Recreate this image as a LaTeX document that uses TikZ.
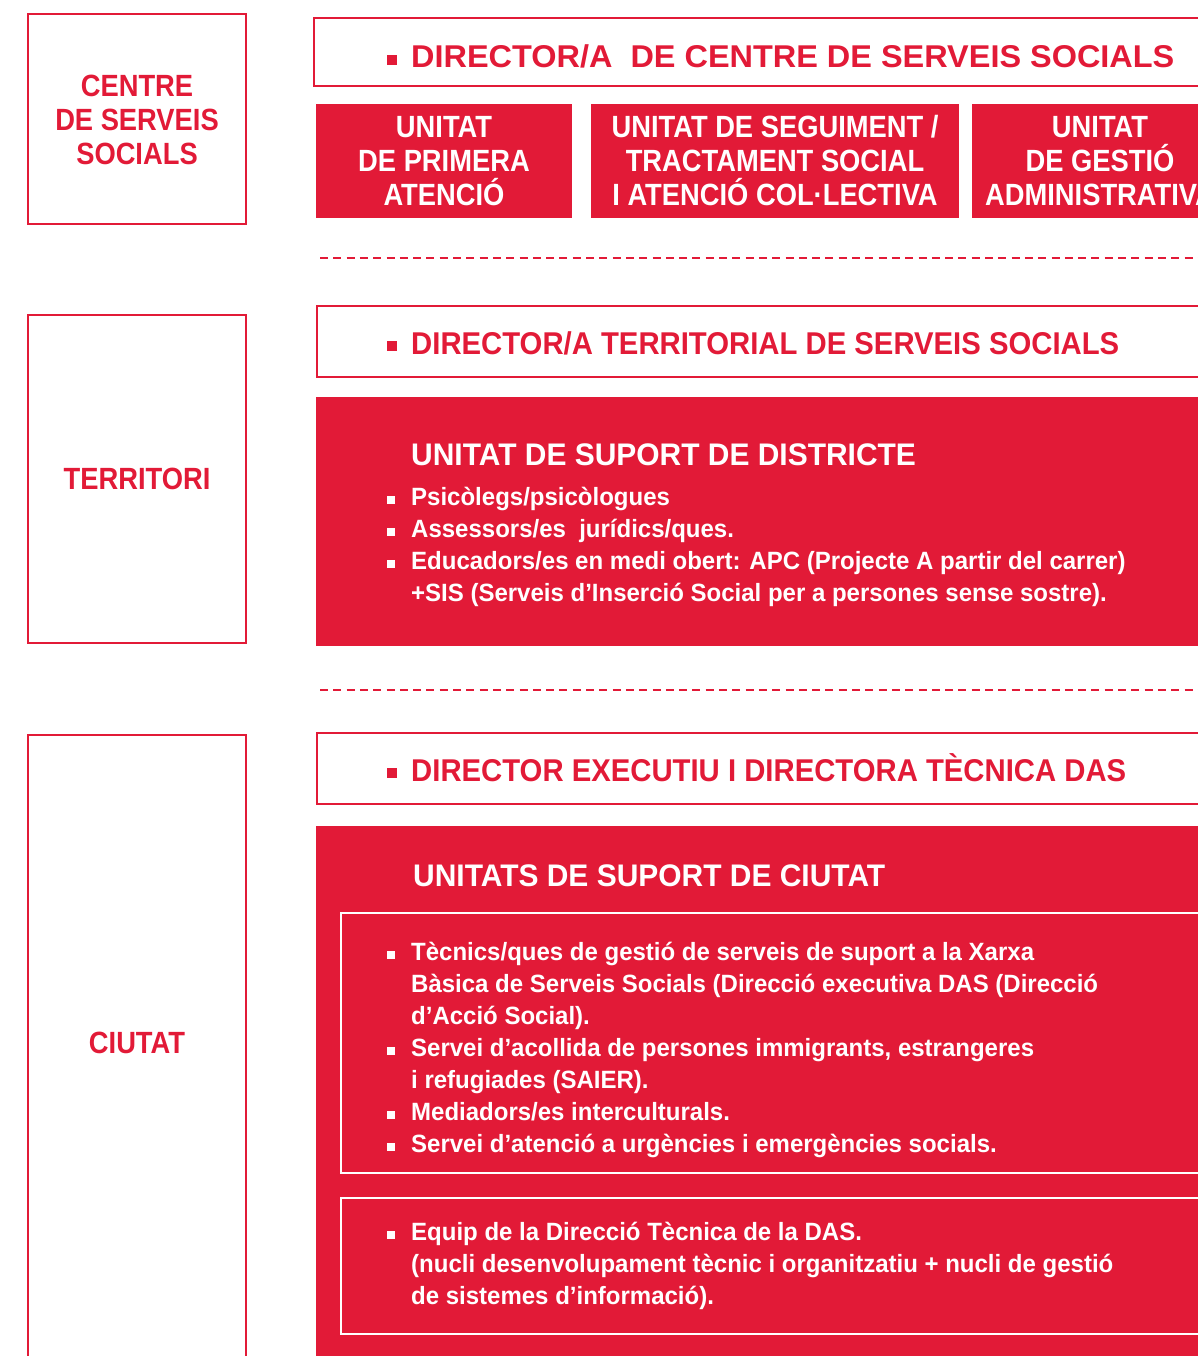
\documentclass[tikz,border=0pt]{standalone}
\usepackage{fontspec}
\setmainfont{Liberation Sans}
\newfontfamily\narrowfont{Liberation Sans}[FakeStretch=0.89]
\newfontfamily\headfont{Liberation Sans}[FakeStretch=0.93]
\newfontfamily\widefont{Liberation Sans}[FakeStretch=1.03]
\newfontfamily\bodyfont{Liberation Sans}[FakeStretch=0.96]
\definecolor{dasred}{HTML}{E21A37}

% square bullets
\newcommand\bigsq{\makebox[24pt][l]{\rule[3pt]{10pt}{10pt}}}
\newcommand\sq{\makebox[24pt][l]{\rule[1pt]{8pt}{8pt}}}
\newcommand\ind{\hspace*{24pt}}

\begin{document}
\begin{tikzpicture}[x=1pt,y=-1pt]

\tikzstyle{sidebox} = [draw=dasred, line width=2.5pt, minimum width=218pt, inner sep=0pt];
\tikzstyle{sidetxt} = [text=dasred, align=center, inner sep=0pt,
	font=\narrowfont\bfseries\fontsize{30.7}{34}\selectfont];
\tikzstyle{headbox} = [draw=dasred, line width=2.5pt, inner sep=0pt];
\tikzstyle{headtxt} = [text=dasred, anchor=base west, inner sep=0pt,
	font=\headfont\bfseries\fontsize{31.5}{34}\selectfont];
\tikzstyle{unit} = [fill=dasred, text=white, align=center, inner sep=0pt,
	minimum height=114pt, font=\narrowfont\bfseries\fontsize{30.7}{34}\selectfont];
\tikzstyle{panel} = [fill=dasred, inner sep=0pt];
\tikzstyle{subpanel} = [draw=white, line width=2pt, inner sep=0pt];
\tikzstyle{subtitle} = [text=white, anchor=base west, inner sep=0pt,
	font=\bodyfont\bfseries\fontsize{31.2}{34}\selectfont];
\tikzstyle{items} = [text=white, anchor=north west, inner sep=0pt, align=left,
	font=\bodyfont\bfseries\fontsize{25}{32}\selectfont];
\tikzstyle{sep} = [draw=dasred, line width=2.5pt, dash pattern=on 8pt off 5.3pt];

\useasboundingbox (0,0) rectangle (1198,1356);
\clip (0,0) rectangle (1198,1356);

% left column
\node[sidebox, minimum height=210pt] (centrebox) at (137,119) {};
\node[sidetxt] (centre) at (137,120) {CENTRE\\DE SERVEIS\\SOCIALS};
\node[sidebox, minimum height=328pt] (terrbox) at (137,479) {};
\node[sidetxt] (terr) at (137,479) {TERRITORI};
\node[sidebox, minimum height=665pt] (ciutatbox) at (137,1067.5) {};
\node[sidetxt] (ciutat) at (137,1043) {CIUTAT};

% centre de serveis socials
\node[headbox, minimum width=916pt, minimum height=68pt] (dircentre) at (772,52) {};
\node[headtxt, font=\widefont\bfseries\fontsize{31.5}{34}\selectfont] (dircentretxt) at (387,68)
	{\bigsq DIRECTOR/A\ \ DE CENTRE DE SERVEIS SOCIALS};
\node[unit, minimum width=256pt] (u1) at (444,161) {UNITAT\\DE PRIMERA\\ATENCIÓ};
\node[unit, minimum width=368pt] (u2) at (775,161) {UNITAT DE SEGUIMENT /\\TRACTAMENT SOCIAL\\I ATENCIÓ COL·LECTIVA};
\node[unit, minimum width=256pt] (u3) at (1100,161) {UNITAT\\DE GESTIÓ\\ADMINISTRATIVA};

\coordinate (s1a) at (320,258);
\coordinate (s1b) at (1230,258);
\draw[sep] (s1a) -- (s1b);

% territori
\node[headbox, minimum width=913pt, minimum height=71pt] (dirterr) at (773.5,341.5) {};
\node[headtxt] (dirterrtxt) at (387,354) {\bigsq DIRECTOR/A TERRITORIAL DE SERVEIS SOCIALS};
\node[panel, minimum width=914pt, minimum height=249pt] (districte) at (773,521.5) {};
\node[subtitle] (districtetxt) at (411,465) {UNITAT DE SUPORT DE DISTRICTE};
\node[items] (districtellista) at (387,482.6) {\strut\sq Psicòlegs/psicòlogues\\
	\sq Assessors/es\ \ jurídics/ques.\\
	\sq Educadors/es en medi obert: APC (Projecte A partir del carrer)\\
	\ind +SIS (Serveis d’Inserció Social per a persones sense sostre).};

\coordinate (s2a) at (320,690);
\coordinate (s2b) at (1230,690);
\draw[sep] (s2a) -- (s2b);

% ciutat
\node[headbox, minimum width=913pt, minimum height=71pt] (direxec) at (773.5,768.5) {};
\node[headtxt] (direxectxt) at (387,781) {\bigsq DIRECTOR EXECUTIU I DIRECTORA TÈCNICA DAS};
\node[panel, minimum width=914pt, minimum height=574pt] (ciutatpanel) at (773,1113) {};
\node[subtitle] (ciutattxt) at (413,886) {UNITATS DE SUPORT DE CIUTAT};
\node[subpanel, minimum width=889pt, minimum height=260pt] (suport) at (785.5,1043) {};
\node[items] (suportllista) at (387,937.6) {\strut\sq Tècnics/ques de gestió de serveis de suport a la Xarxa\\
	\ind Bàsica de Serveis Socials (Direcció executiva DAS (Direcció\\
	\ind d’Acció Social).\\
	\sq Servei d’acollida de persones immigrants, estrangeres\\
	\ind i refugiades (SAIER).\\
	\sq Mediadors/es interculturals.\\
	\sq Servei d’atenció a urgències i emergències socials.};
\node[subpanel, minimum width=889pt, minimum height=136pt] (equip) at (785.5,1266) {};
\node[items] (equipllista) at (387,1217.6) {\strut\sq Equip de la Direcció Tècnica de la DAS.\\
	\ind (nucli desenvolupament tècnic i organitzatiu + nucli de gestió\\
	\ind de sistemes d’informació).};

\end{tikzpicture}
\end{document}
